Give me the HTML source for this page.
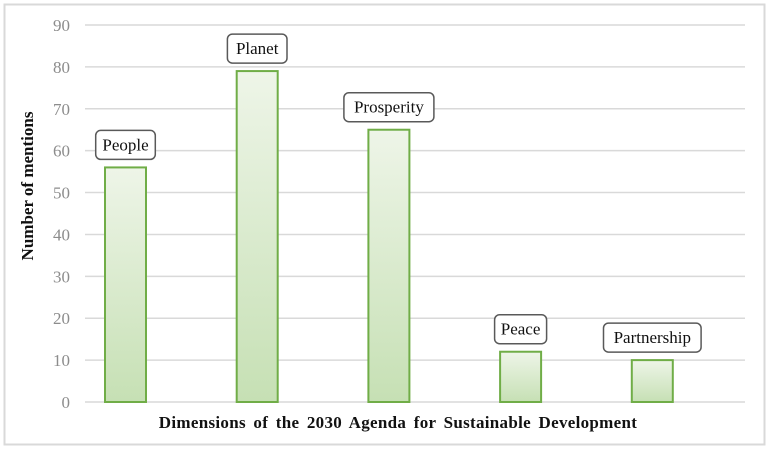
<!DOCTYPE html>
<html><head><meta charset="utf-8"><style>
body{margin:0;background:#fff;}
svg, svg text{font-family:"Liberation Serif","Times New Roman",serif !important;}
</style></head><body>
<svg width="770" height="450" font-family="Liberation Serif, serif" id="chart">
<defs><linearGradient id="g" x1="0" y1="0" x2="0" y2="1"><stop offset="0" stop-color="#eef5e8"/><stop offset="1" stop-color="#c6e0b4"/></linearGradient></defs>
<rect x="4.5" y="4.5" width="760" height="440" fill="#fff" stroke="#d9d9d9" stroke-width="2"/>
<g id="grid"></g><g id="bars"></g>
<text x="33" y="186" transform="rotate(-90 33 186)" text-anchor="middle" font-size="17" font-weight="bold" fill="#111">Number of mentions</text>
<text x="398" y="428" text-anchor="middle" font-size="17" font-weight="bold" fill="#111" word-spacing="3" letter-spacing="0.3">Dimensions of the 2030 Agenda for Sustainable Development</text>
</svg>
<script>
const categories=["People","Planet","Prosperity","Peace","Partnership"];
const values=[56,79,65,12,10];
const ticks=[0,10,20,30,40,50,60,70,80,90];
const NS="http://www.w3.org/2000/svg";
const y0=402,y90=25,ymax=90;
function y(v){return y0-(y0-y90)*v/ymax;}
function x(i){return 125.5+131.7*i;}
function mk(t,a,p){const e=document.createElementNS(NS,t);for(const k in a)e.setAttribute(k,a[k]);p.appendChild(e);return e;}
const grid=document.getElementById('grid'),bars=document.getElementById('bars');
ticks.forEach(t=>{
 const l=mk('line',{x1:85,x2:745,y1:y(t),y2:y(t),stroke:'#d9d9d9','stroke-width':1.5},grid);
 
 
 const tx=mk('text',{x:70,y:y(t)+6,'text-anchor':'end','font-size':17,fill:'#8c8c8c'},grid);
 tx.textContent=t;
 
 
});
categories.forEach((c,i)=>{
 const cx=x(i),top=y(values[i]);
 const r=mk('rect',{x:cx-20.5,y:top,width:41,height:y0-top,fill:'url(#g)',stroke:'#70ad47','stroke-width':2},bars);
 
 
 const w=c.length*7.6+14;
 const b=mk('rect',{x:cx-w/2,y:top-37,width:w,height:29,rx:5,fill:'#fff',stroke:'#595959','stroke-width':1.5},bars);
 
 
 const t=mk('text',{x:cx,y:top-17,'text-anchor':'middle','font-size':17,fill:'#111'},bars);
 t.textContent=c;
 
 
});
</script>
</body></html>
